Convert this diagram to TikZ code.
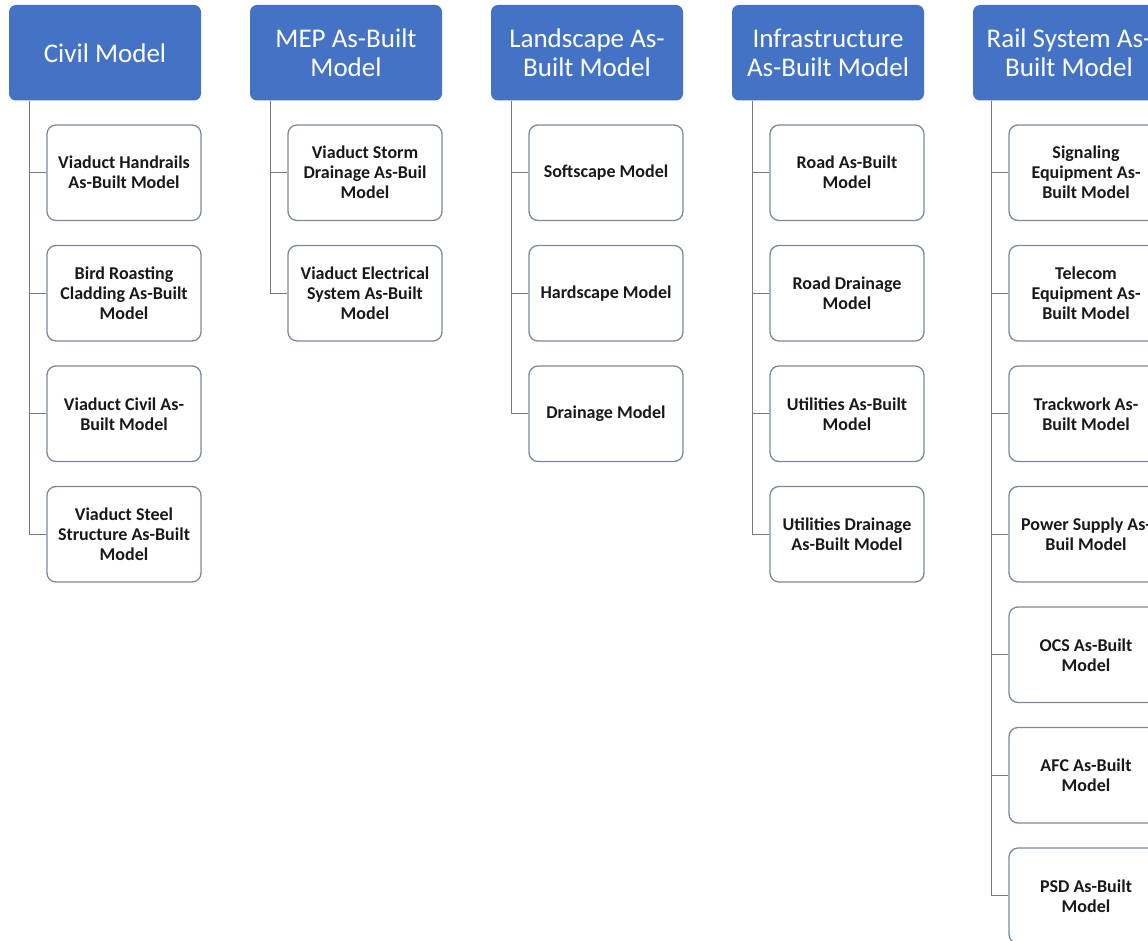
\documentclass[tikz,border=0pt]{standalone}
\usepackage{fontspec}
\setmainfont{Carlito}
\definecolor{headblue}{RGB}{68,114,196}
\definecolor{boxedge}{RGB}{125,137,155}
\definecolor{linkgray}{RGB}{112,122,138}
\definecolor{inktext}{RGB}{25,25,25}
\tikzset{
  head/.style={rectangle, rounded corners=7pt, fill=headblue, draw=none,
    minimum width=192pt, minimum height=95.5pt, inner sep=0pt,
    text=white, align=center, font=\fontsize{27}{29}\selectfont},
  item/.style={rectangle, rounded corners=9pt, fill=white, draw=boxedge,
    line width=1.3pt, minimum width=154pt, minimum height=95.5pt, inner sep=0pt,
    text=inktext, align=center, font=\fontsize{18}{20}\selectfont\bfseries},
  link/.style={draw=linkgray, line width=1.3pt}
}
\begin{document}
\begin{tikzpicture}[x=1pt,y=-1pt]
\fill[white] (0,0) rectangle (1148,941);
\clip (0,0) rectangle (1148,941);
\useasboundingbox (0,0) rectangle (1148,941);

% column headers
\node[head] (h1) at (105,52.75) {Civil Model};
\node[head] (h2) at (346,52.75) {MEP As-Built\\Model};
\node[head] (h3) at (587,52.75) {Landscape As-\\Built Model};
\node[head] (h4) at (828,52.75) {Infrastructure\\As-Built Model};
\node[head] (h5) at (1069,52.75) {Rail System As-\\Built Model};

% Civil
\node[item] (c1) at (124,172.75) {Viaduct Handrails\\As-Built Model};
\node[item] (c2) at (124,293.25) {Bird Roasting\\Cladding As-Built\\Model};
\node[item] (c3) at (124,413.75) {Viaduct Civil As-\\Built Model};
\node[item] (c4) at (124,534.25) {Viaduct Steel\\Structure As-Built\\Model};

% MEP
\node[item] (m1) at (365,172.75) {Viaduct Storm\\Drainage As-Buil\\Model};
\node[item] (m2) at (365,293.25) {Viaduct Electrical\\System As-Built\\Model};

% Landscape
\node[item] (l1) at (606,172.75) {Softscape Model};
\node[item] (l2) at (606,293.25) {Hardscape Model};
\node[item] (l3) at (606,413.75) {Drainage Model};

% Infrastructure
\node[item] (i1) at (847,172.75) {Road As-Built\\Model};
\node[item] (i2) at (847,293.25) {Road Drainage\\Model};
\node[item] (i3) at (847,413.75) {Utilities As-Built\\Model};
\node[item] (i4) at (847,534.25) {Utilities Drainage\\As-Built Model};

% Rail system
\node[item] (r1) at (1086,172.75) {Signaling\\Equipment As-\\Built Model};
\node[item] (r2) at (1086,293.25) {Telecom\\Equipment As-\\Built Model};
\node[item] (r3) at (1086,413.75) {Trackwork As-\\Built Model};
\node[item] (r4) at (1086,534.25) {Power Supply As-\\Buil Model};
\node[item] (r5) at (1086,654.75) {OCS As-Built\\Model};
\node[item] (r6) at (1086,775.25) {AFC As-Built\\Model};
\node[item] (r7) at (1086,895.75) {PSD As-Built\\Model};

% connectors: trunk from each header, branch to each child
\foreach \c in {c1,c2,c3,c4} \draw[link] ([xshift=21pt]h1.south west) |- (\c.west);
\foreach \c in {m1,m2} \draw[link] ([xshift=21pt]h2.south west) |- (\c.west);
\foreach \c in {l1,l2,l3} \draw[link] ([xshift=21pt]h3.south west) |- (\c.west);
\foreach \c in {i1,i2,i3,i4} \draw[link] ([xshift=21pt]h4.south west) |- (\c.west);
\foreach \c in {r1,r2,r3,r4,r5,r6,r7} \draw[link] ([xshift=19pt]h5.south west) |- (\c.west);
\end{tikzpicture}
\end{document}
